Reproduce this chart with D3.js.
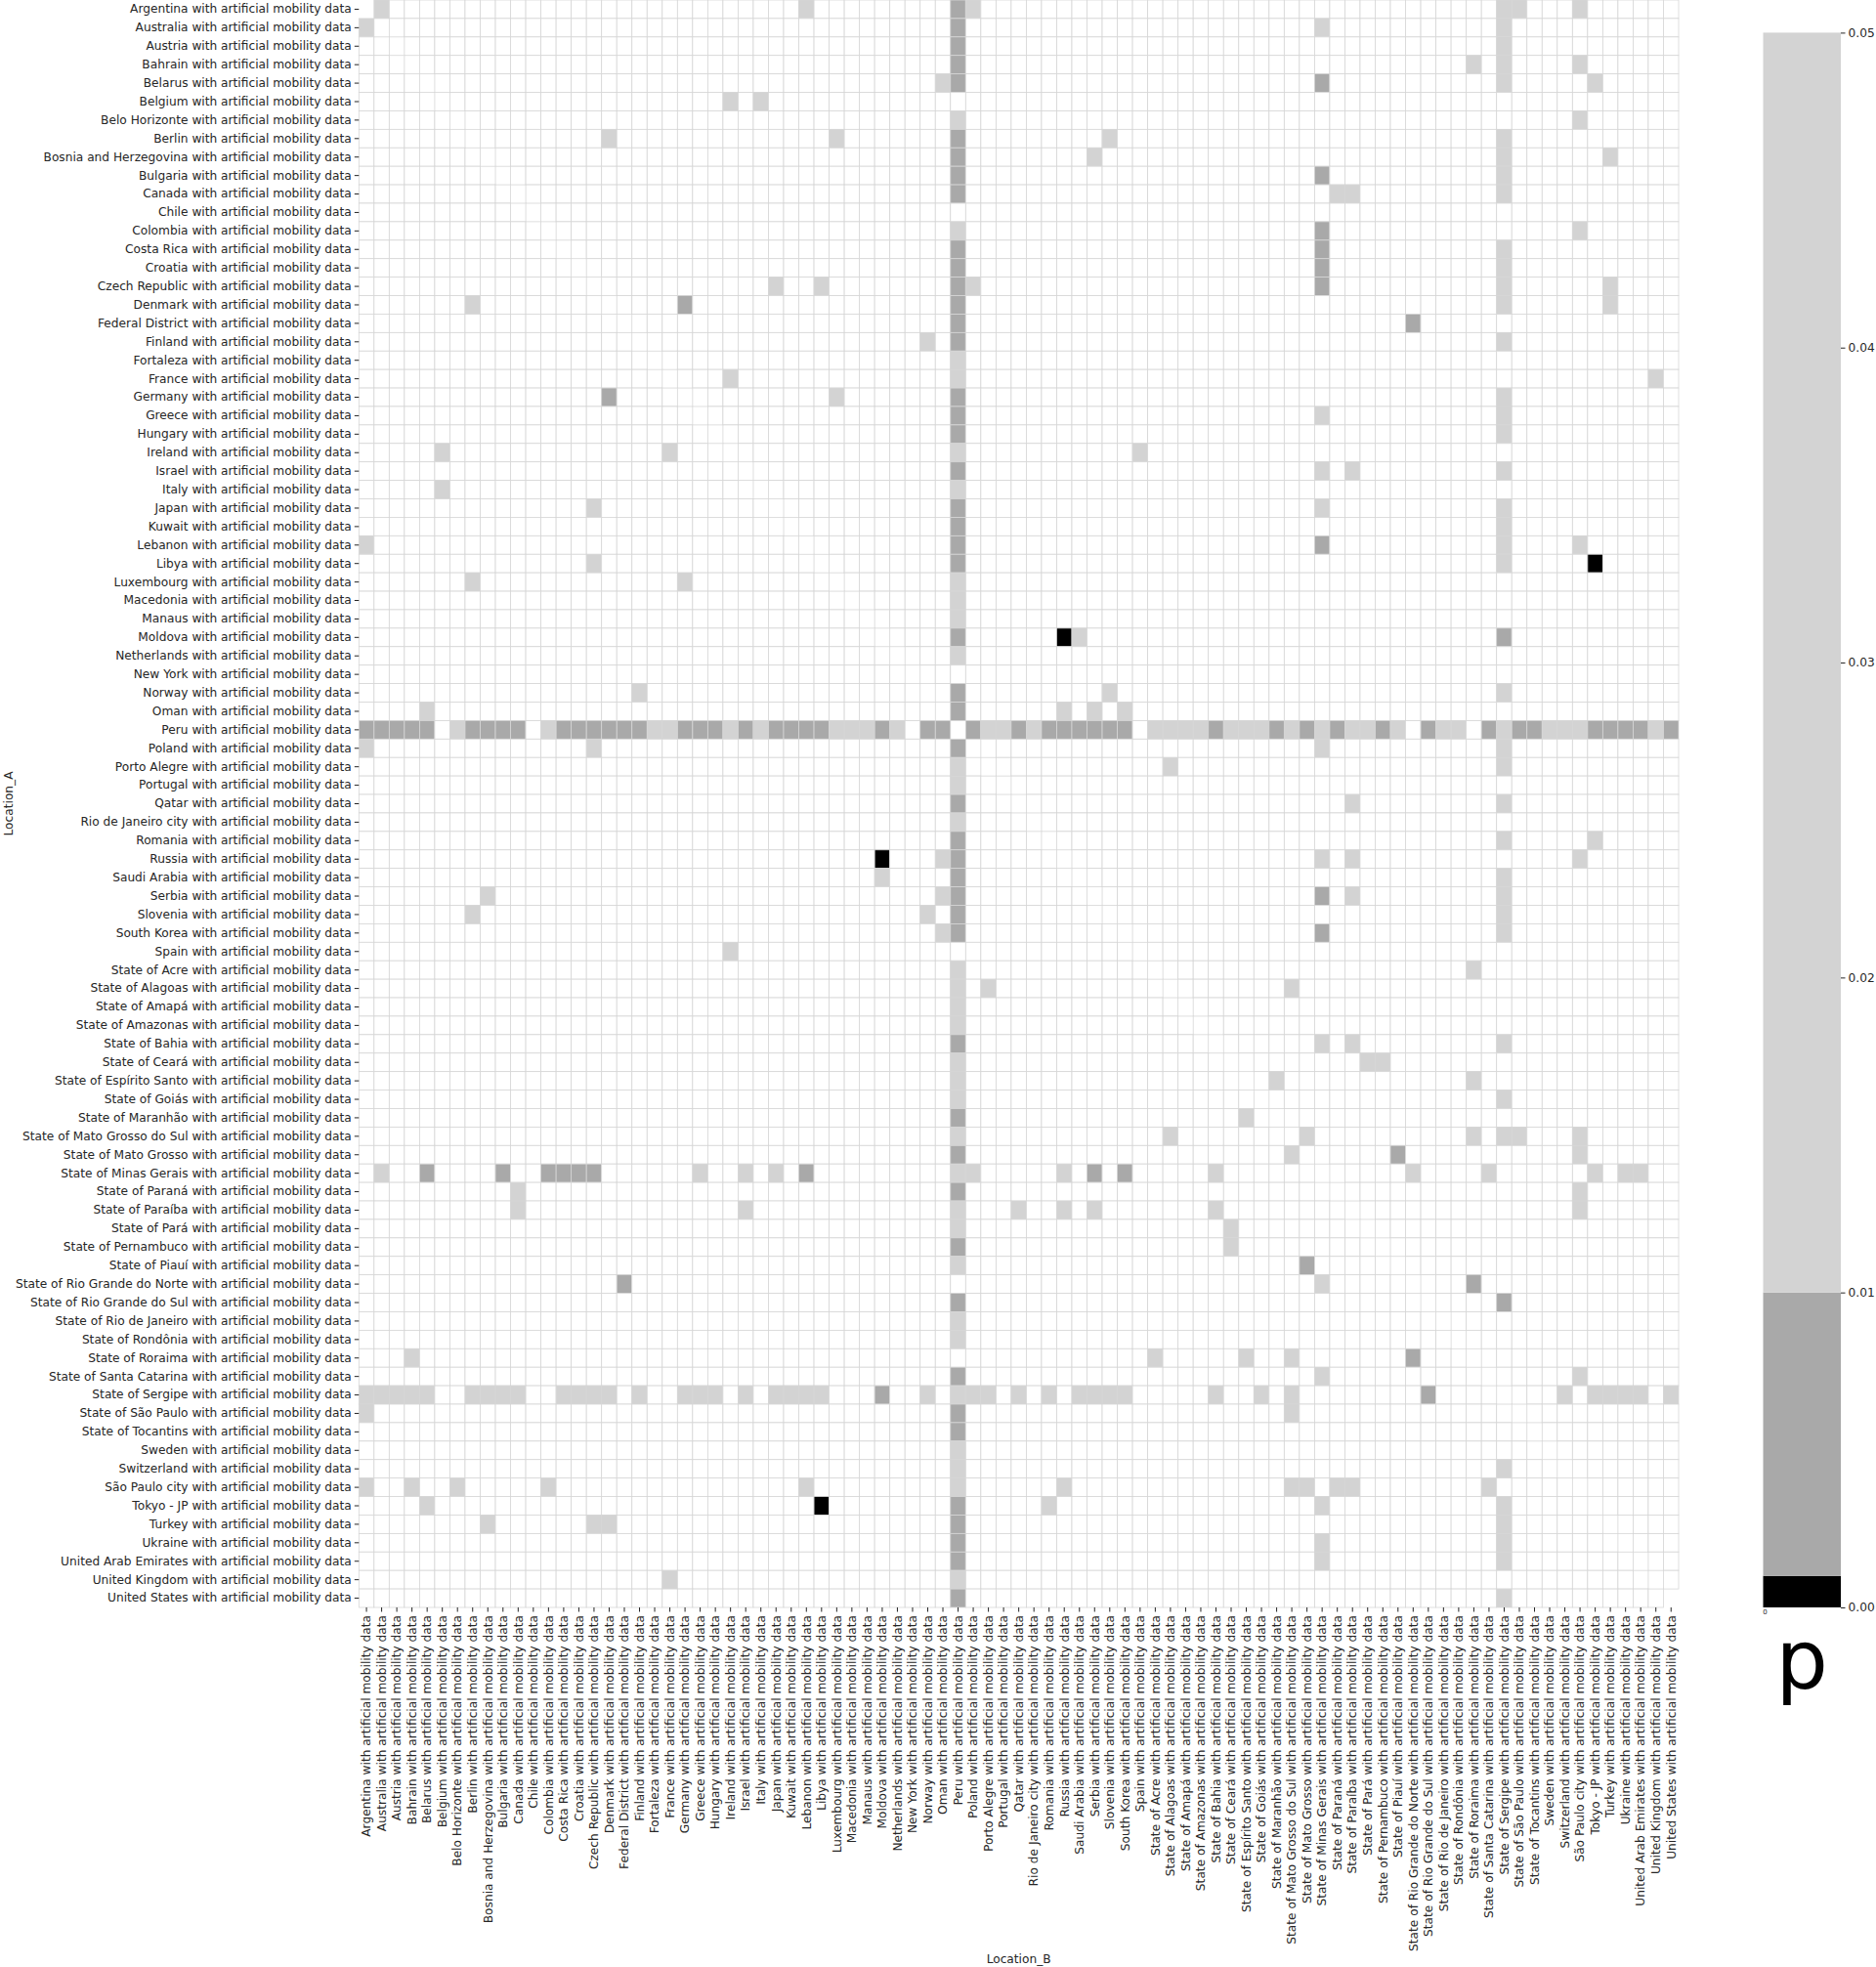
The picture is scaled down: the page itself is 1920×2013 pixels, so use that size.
<!DOCTYPE html>
<html>
<head>
<meta charset="utf-8">
<script src="https://cdn.jsdelivr.net/npm/d3@7"></script>
<style>
  html, body { margin: 0; padding: 0; background: #fff; }
  svg { display: block; font-family: "DejaVu Sans", sans-serif; }
</style>
</head>
<body>
<svg id="chart" width="1920" height="2013"></svg>
<script>
// ---------------- DATA ----------------
const locations = [
  "Argentina","Australia","Austria","Bahrain","Belarus","Belgium","Belo Horizonte","Berlin",
  "Bosnia and Herzegovina","Bulgaria","Canada","Chile","Colombia","Costa Rica","Croatia",
  "Czech Republic","Denmark","Federal District","Finland","Fortaleza","France","Germany",
  "Greece","Hungary","Ireland","Israel","Italy","Japan","Kuwait","Lebanon","Libya",
  "Luxembourg","Macedonia","Manaus","Moldova","Netherlands","New York","Norway","Oman",
  "Peru","Poland","Porto Alegre","Portugal","Qatar","Rio de Janeiro city","Romania",
  "Russia","Saudi Arabia","Serbia","Slovenia","South Korea","Spain","State of Acre",
  "State of Alagoas","State of Amapá","State of Amazonas","State of Bahia","State of Ceará",
  "State of Espírito Santo","State of Goiás","State of Maranhão","State of Mato Grosso do Sul",
  "State of Mato Grosso","State of Minas Gerais","State of Paraná","State of Paraíba",
  "State of Pará","State of Pernambuco","State of Piauí","State of Rio Grande do Norte",
  "State of Rio Grande do Sul","State of Rio de Janeiro","State of Rondônia","State of Roraima",
  "State of Santa Catarina","State of Sergipe","State of São Paulo","State of Tocantins",
  "Sweden","Switzerland","São Paulo city","Tokyo - JP","Turkey","Ukraine",
  "United Arab Emirates","United Kingdom","United States"
];
const labelSuffix = " with artificial mobility data";

// Estimated p-values for significant pairs (indices into `locations`); the matrix is symmetric.
// p < 0.001
const pairsVeryStrong = [[30,81,0.0005],[34,46,0.0005]];
// 0.001 <= p < 0.01
const pairsStrong = [
  [0,39,0.005],[1,39,0.005],[2,39,0.005],[3,39,0.005],[4,39,0.005],[7,39,0.005],[8,39,0.005],
  [9,39,0.005],[10,39,0.005],[13,39,0.005],[14,39,0.005],[15,39,0.005],[16,39,0.005],
  [17,39,0.005],[18,39,0.005],[21,39,0.005],[22,39,0.005],[23,39,0.005],[25,39,0.005],
  [27,39,0.005],[28,39,0.005],[29,39,0.005],[30,39,0.005],[34,39,0.005],[37,39,0.005],
  [38,39,0.005],[39,40,0.005],[39,43,0.005],[39,45,0.005],[39,46,0.005],[39,47,0.005],
  [39,48,0.005],[39,49,0.005],[39,50,0.005],[39,56,0.005],[39,60,0.005],[39,62,0.005],
  [39,64,0.005],[39,67,0.005],[39,70,0.005],[39,74,0.005],[39,76,0.005],[39,77,0.005],
  [39,81,0.005],[39,82,0.005],[39,83,0.005],[39,84,0.005],[39,86,0.005],
  [4,63,0.005],[9,63,0.005],[12,63,0.005],[13,63,0.005],[14,63,0.005],[15,63,0.005],
  [16,21,0.005],[17,69,0.005],[29,63,0.005],[34,75,0.005],[48,63,0.005],[50,63,0.005],
  [62,68,0.005],[69,73,0.005],[70,75,0.005]
];
// 0.01 <= p < 0.05
const pairsWeak = [
  [6,39,0.03],[12,39,0.03],[19,39,0.03],[20,39,0.03],[24,39,0.03],[26,39,0.03],[31,39,0.03],
  [32,39,0.03],[33,39,0.03],[35,39,0.03],[39,41,0.03],[39,42,0.03],[39,44,0.03],[39,52,0.03],
  [39,53,0.03],[39,54,0.03],[39,55,0.03],[39,57,0.03],[39,58,0.03],[39,59,0.03],[39,61,0.03],
  [39,63,0.03],[39,65,0.03],[39,66,0.03],[39,68,0.03],[39,71,0.03],[39,72,0.03],[39,75,0.03],
  [39,78,0.03],[39,79,0.03],[39,80,0.03],[39,85,0.03],
  [0,1,0.03],[0,29,0.03],[0,40,0.03],[0,75,0.03],[0,76,0.03],[0,80,0.03],
  [1,63,0.03],[1,75,0.03],[2,75,0.03],[3,73,0.03],[3,75,0.03],[3,80,0.03],
  [4,38,0.03],[4,75,0.03],[4,81,0.03],[5,24,0.03],[5,26,0.03],[6,80,0.03],
  [7,16,0.03],[7,31,0.03],[7,49,0.03],[7,75,0.03],[8,48,0.03],[8,75,0.03],[8,82,0.03],
  [9,75,0.03],[10,64,0.03],[10,65,0.03],[10,75,0.03],[12,80,0.03],[13,75,0.03],[14,75,0.03],
  [15,27,0.03],[15,30,0.03],[15,40,0.03],[15,75,0.03],[15,82,0.03],[16,75,0.03],[16,82,0.03],
  [18,37,0.03],[18,75,0.03],[20,24,0.03],[20,85,0.03],[21,31,0.03],[21,75,0.03],
  [22,63,0.03],[22,75,0.03],[23,75,0.03],[24,51,0.03],[25,63,0.03],[25,65,0.03],[25,75,0.03],
  [27,63,0.03],[27,75,0.03],[28,75,0.03],[29,75,0.03],[29,80,0.03],[30,75,0.03],[34,47,0.03],
  [37,49,0.03],[37,75,0.03],[38,46,0.03],[38,48,0.03],[38,50,0.03],[40,63,0.03],[40,75,0.03],
  [41,53,0.03],[41,75,0.03],[43,65,0.03],[43,75,0.03],[45,75,0.03],[45,81,0.03],
  [46,63,0.03],[46,65,0.03],[46,80,0.03],[47,75,0.03],[48,65,0.03],[48,75,0.03],[49,75,0.03],
  [50,75,0.03],[52,73,0.03],[53,61,0.03],[56,63,0.03],[56,65,0.03],[56,75,0.03],
  [57,66,0.03],[57,67,0.03],[58,60,0.03],[58,73,0.03],[59,75,0.03],[61,62,0.03],[61,73,0.03],
  [61,75,0.03],[61,76,0.03],[61,80,0.03],[62,80,0.03],[63,69,0.03],[63,74,0.03],[63,81,0.03],
  [63,83,0.03],[63,84,0.03],[64,80,0.03],[65,80,0.03],[74,80,0.03],[75,79,0.03],[75,81,0.03],
  [75,82,0.03],[75,83,0.03],[75,84,0.03],[75,86,0.03]
];
const pBins = [0.001, 0.01, 0.05];
const pColors = ["#000000", "#a9a9a9", "#d3d3d3", "#ffffff"];
const cbarTicks = [0, 0.01, 0.02, 0.03, 0.04, 0.05];

// ---------------- BUILD MATRIX ----------------
const n = locations.length;
const cells = [];
const pLookup = new Map();
[...pairsVeryStrong, ...pairsStrong, ...pairsWeak].forEach(([a, b, p]) => {
  pLookup.set(a + "-" + b, p);
  pLookup.set(b + "-" + a, p);
});
for (let r = 0; r < n; r++) {
  for (let c = 0; c < n; c++) {
    if (r === c) continue;
    const key = r + "-" + c;
    cells.push({ row: locations[r], col: locations[c], p: pLookup.has(key) ? pLookup.get(key) : 1 });
  }
}

// ---------------- DRAW ----------------
const svg = d3.select("#chart");
const plot = { left: 367.3, right: 1718, top: 0, bottom: 1645 };

const x = d3.scaleBand().domain(locations).range([plot.left, plot.right]);
const y = d3.scaleBand().domain(locations).range([plot.top, plot.bottom]);
const color = d3.scaleThreshold().domain(pBins).range(pColors);

svg.append("g")
  .selectAll("rect")
  .data(cells)
  .join("rect")
  .attr("x", d => x(d.col))
  .attr("y", d => y(d.row))
  .attr("width", x.bandwidth())
  .attr("height", y.bandwidth())
  .attr("fill", d => color(d.p))
  .attr("stroke", "#d6d6d6")
  .attr("stroke-width", 0.8);

const textColor = "#262626";
const fontSize = "12.2px";

// Y axis
const yAxis = svg.append("g")
  .attr("transform", `translate(${plot.left},0)`)
  .call(d3.axisLeft(y).tickSize(4.5).tickPadding(3).tickFormat(d => d + labelSuffix));
yAxis.select(".domain").remove();
yAxis.selectAll(".tick line").attr("stroke", textColor).attr("stroke-width", 1);
yAxis.selectAll(".tick text")
  .attr("fill", textColor)
  .style("font-size", fontSize)
  .style("font-family", "DejaVu Sans");

// X axis
const xAxis = svg.append("g")
  .attr("transform", `translate(0,${plot.bottom})`)
  .call(d3.axisBottom(x).tickSize(4.5).tickPadding(3).tickFormat(d => d + labelSuffix));
xAxis.select(".domain").remove();
xAxis.selectAll(".tick line").attr("stroke", textColor).attr("stroke-width", 1);
xAxis.selectAll(".tick text")
  .attr("fill", textColor)
  .style("font-size", fontSize)
  .style("font-family", "DejaVu Sans")
  .attr("text-anchor", "end")
  .attr("dy", "0.35em")
  .attr("x", 0)
  .attr("y", 0)
  .attr("transform", "translate(0,8) rotate(-90)");

// Axis titles
svg.append("text")
  .attr("transform", `translate(9,${(plot.top + plot.bottom) / 2}) rotate(-90)`)
  .attr("text-anchor", "middle")
  .attr("dominant-baseline", "central")
  .attr("fill", textColor)
  .style("font-size", fontSize)
  .text("Location_A");

svg.append("text")
  .attr("x", (plot.left + plot.right) / 2)
  .attr("y", 2005)
  .attr("text-anchor", "middle")
  .attr("dominant-baseline", "central")
  .attr("fill", textColor)
  .style("font-size", fontSize)
  .text("Location_B");

// Colorbar
const cb = { left: 1804.5, width: 79.5, top: 33.4, bottom: 1645 };
const cy = d3.scaleLinear().domain([0, 0.05]).range([cb.bottom, cb.top]);
const cbEdges = [0, ...pBins];
svg.append("g")
  .selectAll("rect")
  .data(d3.range(cbEdges.length - 1))
  .join("rect")
  .attr("x", cb.left)
  .attr("width", cb.width)
  .attr("y", i => cy(cbEdges[i + 1]))
  .attr("height", i => cy(cbEdges[i]) - cy(cbEdges[i + 1]))
  .attr("fill", i => pColors[i]);

const cAxis = svg.append("g")
  .attr("transform", `translate(${cb.left + cb.width},0)`)
  .call(d3.axisRight(cy).tickValues(cbarTicks).tickFormat(d3.format(".2f")).tickSize(4.5).tickPadding(3));
cAxis.select(".domain").remove();
cAxis.selectAll(".tick line").attr("stroke", textColor);
cAxis.selectAll(".tick text")
  .attr("fill", textColor)
  .style("font-size", fontSize)
  .style("font-family", "DejaVu Sans");

// small stray label under the colorbar's lower-left corner
svg.append("text")
  .attr("x", cb.left + 2)
  .attr("y", 1652)
  .attr("text-anchor", "middle")
  .attr("fill", textColor)
  .style("font-size", "7px")
  .text("0");

svg.append("text")
  .attr("x", cb.left + cb.width / 2)
  .attr("y", 1728)
  .attr("text-anchor", "middle")
  .attr("fill", "#000")
  .style("font-size", "84px")
  .text("p");
</script>
</body>
</html>
